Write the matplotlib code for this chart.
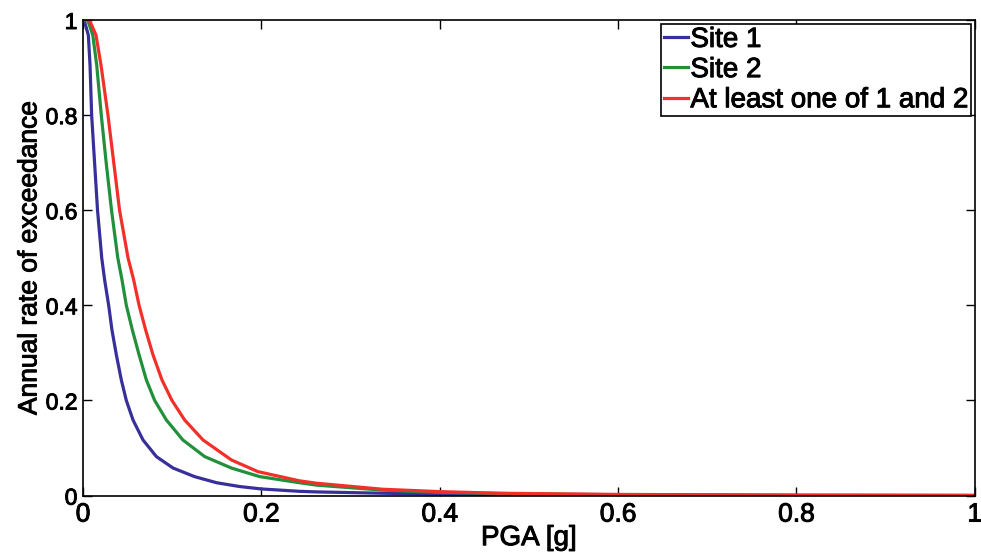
import numpy as np
import matplotlib.pyplot as plt
import matplotlib.patheffects as pe

plt.rcParams['font.family'] = ['Liberation Sans', 'DejaVu Sans']

# values (PGA in g, annual rate of exceedance)
site1_pga = [0, 0.002, 0.006, 0.0079, 0.0097, 0.013, 0.0163, 0.021, 0.0243, 0.0288,
             0.0325, 0.0374, 0.043, 0.0486, 0.0561, 0.0673, 0.0823, 0.101, 0.125, 0.15,
             0.176, 0.2, 0.243, 0.262, 0.336, 0.4, 0.5, 0.6, 0.8, 1.0]
site1_rate = [1, 0.995, 0.968, 0.905, 0.8, 0.7, 0.6, 0.5, 0.453, 0.4,
              0.348, 0.296, 0.243, 0.2, 0.159, 0.117, 0.082, 0.058, 0.040, 0.027,
              0.019, 0.014, 0.009, 0.0078, 0.005, 0.003, 0.0017, 0.001, 0.0004, 0.0002]

site2_pga = [0, 0.0053, 0.011, 0.0154, 0.0205, 0.026, 0.032, 0.039, 0.0438, 0.0486,
             0.0554, 0.0629, 0.0711, 0.0804, 0.0935, 0.112, 0.1365, 0.1664, 0.198, 0.243,
             0.262, 0.336, 0.4, 0.5, 0.6, 0.8, 1.0]
site2_rate = [1, 1.0, 0.968, 0.905, 0.8, 0.7, 0.6, 0.5, 0.453, 0.4,
              0.348, 0.296, 0.243, 0.2, 0.159, 0.117, 0.082, 0.058, 0.040, 0.027,
              0.022, 0.0115, 0.0068, 0.0035, 0.0019, 0.0007, 0.0003]

both_pga = [0, 0.004, 0.0079, 0.0146, 0.0202, 0.028, 0.0345, 0.041, 0.0505, 0.0569,
            0.0629, 0.0703, 0.0785, 0.0886, 0.0998, 0.114, 0.1346, 0.1664, 0.196, 0.243,
            0.262, 0.336, 0.4, 0.467, 0.6, 0.8, 1.0]
both_rate = [1, 1.0, 0.997, 0.968, 0.905, 0.8, 0.7, 0.6, 0.5, 0.453,
             0.4, 0.348, 0.296, 0.243, 0.2, 0.159, 0.117, 0.075, 0.0505, 0.031,
             0.026, 0.0134, 0.0084, 0.005, 0.0025, 0.001, 0.0005]

labels = ['Site 1', 'Site 2', 'At least one of 1 and 2']
colors = ['#372f9a', '#22903a', '#f2302a']
ticks = [0, 0.2, 0.4, 0.6, 0.8, 1]
tick_labels = ['0', '0.2', '0.4', '0.6', '0.8', '1']

fig = plt.figure(figsize=(9.81, 5.55), dpi=100)
ax = fig.add_axes([0.0846, 0.107, 0.909, 0.857])

ax.plot(site1_pga, site1_rate, color=colors[0], lw=2.3, label=labels[0])
ax.plot(site2_pga, site2_rate, color=colors[1], lw=2.3, label=labels[1])
ax.plot(both_pga, both_rate, color=colors[2], lw=2.3, label=labels[2])

ax.set_xlim(0, 1)
ax.set_ylim(0, 1)
ax.set_xticks(ticks)
ax.set_xticklabels(tick_labels)
ax.set_yticks(ticks)
ax.set_yticklabels(tick_labels)
ax.tick_params(direction='in', length=6.5, width=1, top=True, right=True)
ax.tick_params(axis='x', labelsize=19, pad=5)
ax.tick_params(axis='y', labelsize=16.5, pad=4)
for s in ax.spines.values():
    s.set_linewidth(1.2)

ax.set_xlabel('PGA [g]', fontsize=20, labelpad=-1)
ax.set_ylabel('Annual rate of exceedance', fontsize=19, labelpad=3)

leg = ax.legend(loc='upper right', fontsize=20, frameon=True, fancybox=False,
                handlelength=0.85, handletextpad=0.1, borderpad=0.1,
                labelspacing=0.15, borderaxespad=0.15, framealpha=1)
leg.get_frame().set_edgecolor('black')
leg.get_frame().set_linewidth(1.2)

# heavier text, like the exported original
bold = [pe.withStroke(linewidth=0.7, foreground='black')]
texts = ax.get_xticklabels() + ax.get_yticklabels() + leg.get_texts()
texts += [ax.xaxis.label, ax.yaxis.label]
for t in texts:
    t.set_path_effects(bold)

plt.savefig('out.png', dpi=100)
